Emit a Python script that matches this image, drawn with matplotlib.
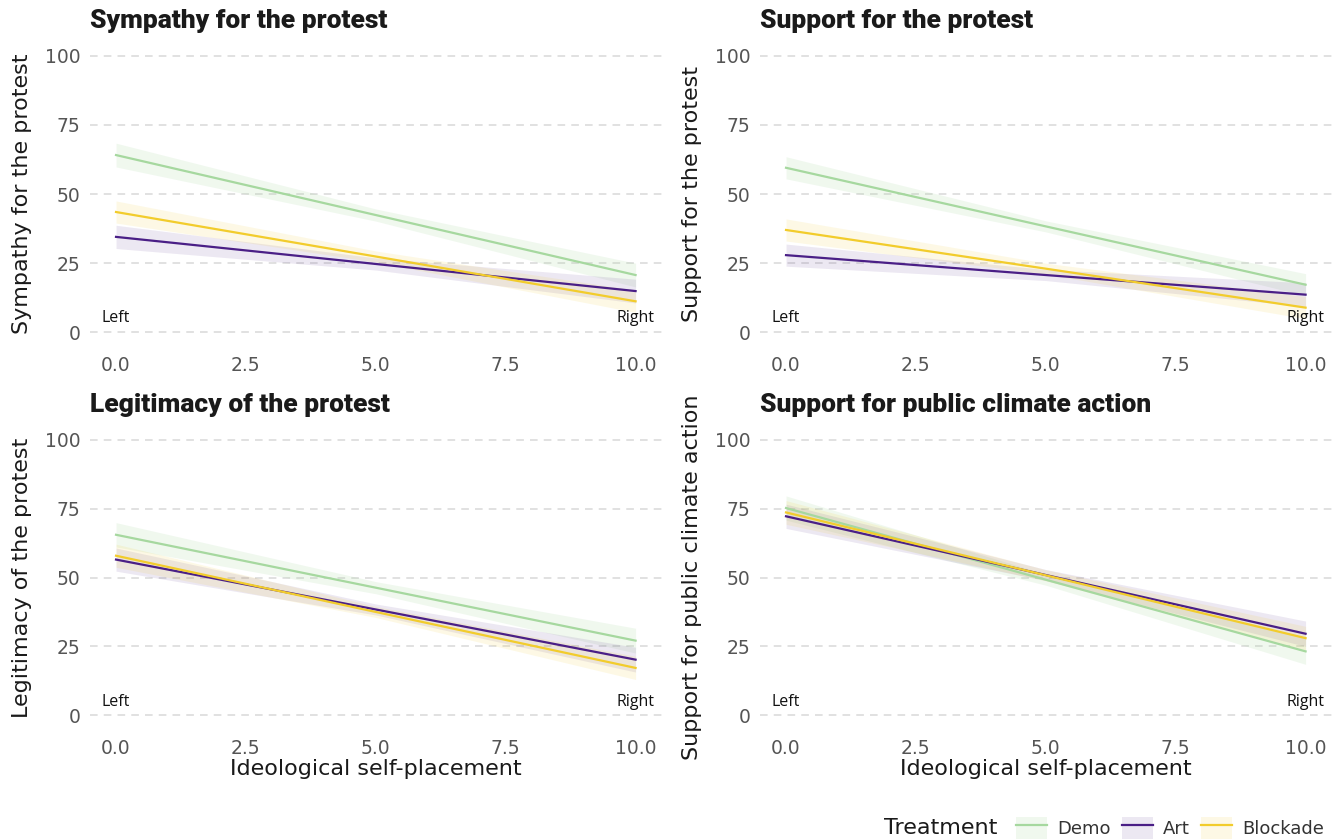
import matplotlib
matplotlib.use('Agg')
import matplotlib.pyplot as plt
from matplotlib.patches import Patch
from matplotlib.lines import Line2D
import numpy as np

# data (fit and 95% CI half-width at x = 0, 5, 10)
x_vals = [0, 5, 10]
treatments = ['Demo', 'Art', 'Blockade']
colors = ['#a6d89f', '#4a1f86', '#f2cc2c']
fill_alpha = [0.17, 0.10, 0.12]

panel_titles = ['Sympathy for the protest', 'Support for the protest',
                'Legitimacy of the protest', 'Support for public climate action']

sympathy_fit = [[64.1, 42.4, 20.7], [34.5, 24.7, 14.9], [43.5, 27.4, 11.2]]
sympathy_ci = [[4.3, 2.2, 4.3], [4.2, 2.2, 4.3], [4.0, 2.0, 4.0]]

support_fit = [[59.5, 38.3, 17.2], [27.9, 20.7, 13.6], [37.0, 23.0, 8.9]]
support_ci = [[4.0, 2.0, 4.0], [4.0, 2.0, 4.3], [4.0, 2.0, 4.0]]

legitimacy_fit = [[65.5, 46.3, 27.1], [56.5, 38.4, 20.2], [57.9, 37.5, 17.2]]
legitimacy_ci = [[4.4, 2.2, 4.5], [4.2, 2.0, 4.5], [4.2, 2.0, 4.2]]

climate_fit = [[75.2, 49.2, 23.2], [72.2, 50.9, 29.6], [73.6, 50.8, 28.0]]
climate_ci = [[4.4, 2.0, 4.7], [4.4, 2.0, 4.6], [4.3, 2.0, 4.3]]

y_ticks = [0, 25, 50, 75, 100]
x_ticks = [0.0, 2.5, 5.0, 7.5, 10.0]

fits = [sympathy_fit, support_fit, legitimacy_fit, climate_fit]
cis = [sympathy_ci, support_ci, legitimacy_ci, climate_ci]

plt.rcParams['font.family'] = ['DejaVu Sans']

fig = plt.figure(figsize=(13.4, 8.4), dpi=100)
# axes boxes in figure fractions
boxes = [
    [0.0672, 0.588, 0.4265, 0.362],
    [0.5672, 0.588, 0.4265, 0.362],
    [0.0672, 0.132, 0.4265, 0.361],
    [0.5672, 0.132, 0.4265, 0.361],
]

for i in range(4):
    ax = fig.add_axes(boxes[i])
    for t in range(3):
        fit = np.array(fits[i][t])
        ci = np.array(cis[i][t])
        ax.fill_between(x_vals, fit - ci, fit + ci, color=colors[t], alpha=fill_alpha[t], lw=0)
    for t in range(3):
        ax.plot(x_vals, fits[i][t], color=colors[t], lw=1.6)

    ax.set_xlim(-0.5, 10.5)
    ax.set_ylim(-5, 105)
    ax.set_yticks(y_ticks)
    ax.set_yticklabels([str(v) for v in y_ticks])
    ax.set_xticks(x_ticks)
    ax.set_xticklabels(['%.1f' % v for v in x_ticks])
    ax.tick_params(length=0, labelsize=13.5, labelcolor='#555555', pad=7)
    for s in ax.spines.values():
        s.set_visible(False)
    ax.grid(axis='y', color='#d9d9d9', linestyle=(0, (5, 4)), lw=1.1)
    ax.set_axisbelow(True)

    ax.set_title(panel_titles[i], loc='left', fontsize=19, fontweight='heavy',
                 family='Roboto', color='#1a1a1a', pad=10, x=0.0)
    ax.set_ylabel(panel_titles[i], fontsize=16, color='#1a1a1a', labelpad=9)
    if i >= 2:
        ax.set_xlabel('Ideological self-placement', fontsize=16, color='#1a1a1a', labelpad=1)

    ax.text(0, 5, 'Left', ha='center', va='center', fontsize=11.5, family='Open Sans', color='#111111')
    ax.text(10, 5, 'Right', ha='center', va='center', fontsize=11.5, family='Open Sans', color='#111111')

handles = [(Patch(facecolor=c, alpha=a, lw=0), Line2D([], [], color=c, lw=1.6))
           for c, a in zip(colors, fill_alpha)]
fig.text(0.660, 0.0145, 'Treatment', fontsize=16, color='#1a1a1a', va='center', ha='left')
fig.legend(handles, treatments, loc='center right', bbox_to_anchor=(0.988, 0.0145), ncol=3,
           frameon=False, fontsize=13, handlelength=1.7, handleheight=1.55,
           columnspacing=0.65, handletextpad=0.55, borderaxespad=0.0, borderpad=0.0,
           labelcolor='#333333')

fig.savefig('out.png', dpi=100, facecolor='white')
